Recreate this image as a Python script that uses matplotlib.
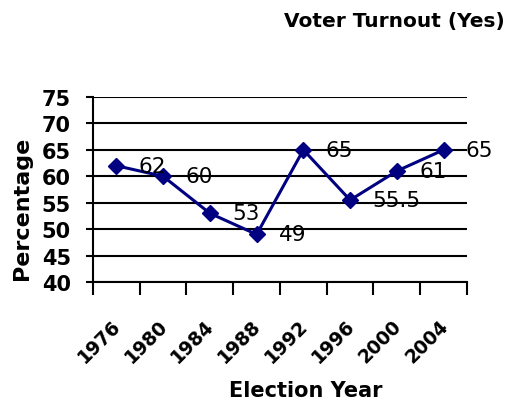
"""Voter turnout line chart."""

import matplotlib

matplotlib.use("Agg")
import matplotlib.pyplot as plt
import numpy as np

YEARS = ["1976", "1980", "1984", "1988", "1992", "1996", "2000", "2004"]
TURNOUT = [62, 60, 53, 49, 65, 55.5, 61, 65]
LABELS = ["62", "60", "53", "49", "65", "55.5", "61", "65"]
Y_TICKS = [40, 45, 50, 55, 60, 65, 70, 75]

LINE_COLOR = "#000080"

plt.rcParams["font.family"] = ["DejaVu Sans"]

fig = plt.figure(figsize=(5.06, 4.02), dpi=100)
ax = fig.add_axes([93 / 506, 1 - 283 / 402, (467 - 93) / 506, (283 - 98) / 402])

x = np.arange(len(YEARS))
ax.plot(x, TURNOUT, color=LINE_COLOR, lw=2.2, marker="D", markersize=8, zorder=3, clip_on=False)

for xi, yi, lab in zip(x, TURNOUT, LABELS):
    ax.annotate(lab, (xi, yi), xytext=(16, 0), textcoords="offset points",
                ha="left", va="center", fontsize=15.5, color="black", zorder=4)

ax.set_xlim(-0.5, len(YEARS) - 0.5)
ax.set_ylim(40, 75)
ax.set_yticks(Y_TICKS)
ax.set_yticklabels([str(t) for t in Y_TICKS], fontsize=15, fontweight="bold")
ax.tick_params(axis="y", length=5, width=1.5, pad=11)

ax.set_xticks(np.arange(len(YEARS) + 1) - 0.5)
ax.set_xticklabels([])
ax.tick_params(axis="x", length=9, width=1.5)

for xi, year in zip(x, YEARS):
    ax.annotate(year, (xi, 0), xycoords=ax.get_xaxis_transform(), xytext=(1, -29),
                textcoords="offset points", rotation=45, rotation_mode="anchor",
                ha="right", va="center", fontsize=13.5, fontweight="bold", annotation_clip=False)

ax.grid(axis="y", color="black", lw=1.5)
ax.set_axisbelow(True)
for side in ["top", "right"]:
    ax.spines[side].set_visible(False)
for side in ["left", "bottom"]:
    ax.spines[side].set_linewidth(1.5)

fig.text(22 / 506, 1 - 208 / 402, "Percentage", rotation=90, ha="center", va="center",
         fontsize=16, fontweight="bold")
fig.text(306 / 506, 1 - 391 / 402, "Election Year", ha="center", va="center",
         fontsize=15, fontweight="bold")
fig.text(505 / 506, 1 - 22 / 402, "Voter Turnout (Yes)", ha="right", va="center",
         fontsize=14.5, fontweight="bold")

fig.savefig("out.png", dpi=100)
